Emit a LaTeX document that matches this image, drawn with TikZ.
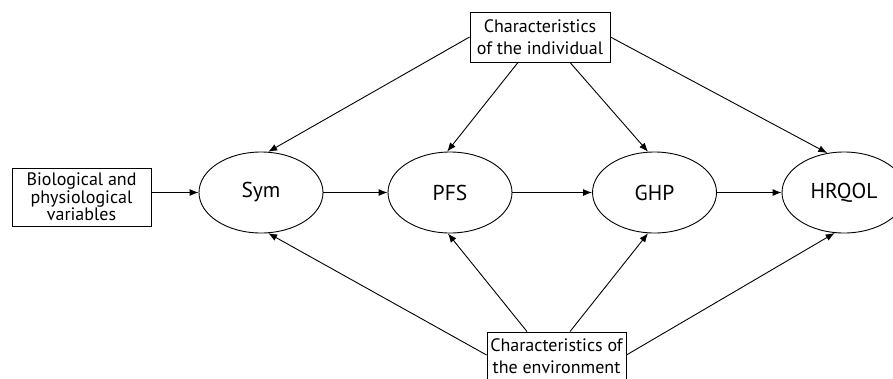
\documentclass[tikz,border=0pt]{standalone}
\usepackage{fontspec}
\setmainfont{PT Sans}
\usetikzlibrary{shapes.geometric,arrows.meta,calc}
\begin{document}
\begin{tikzpicture}[x=1pt,y=-1pt,
  box/.style={draw,line width=0.9pt,rectangle,inner sep=0pt,align=center,font=\fontsize{18}{22.5}\selectfont},
  oval/.style={draw,ellipse,line width=0.9pt,minimum width=124pt,minimum height=81pt,inner sep=0pt,font=\fontsize{21.5}{24}\selectfont},
  arr/.style={line width=0.9pt,-{Latex[length=9pt,width=7pt]}}]
\useasboundingbox (0,0) rectangle (893,378);
\clip (0,0) rectangle (893,378);
% nodes
\node[box,minimum width=140pt,minimum height=50pt] (top) at (540,37) {Characteristics\\of the individual};
\node[box,minimum width=139pt,minimum height=58pt,font=\fontsize{18}{17.7}\selectfont] (bio) at (81.5,197) {Biological and\\physiological\\variables};
\node[box,minimum width=139pt,minimum height=48pt,font=\fontsize{18}{21.7}\selectfont] (bot) at (556.5,356) {Characteristics of\\the environment};
\node[oval] (Sym) at (261,192.5) {Sym};
\node[oval] (PFS) at (450,192.5) {PFS};
\node[oval] (GHP) at (654.5,192.5) {GHP};
\node[oval] (HRQOL) at (844,192.5) {HRQOL};
% horizontal chain
\draw[arr] ([yshift=4.5pt]bio.east) -- (Sym.west);
\draw[arr] (Sym.east) -- (PFS.west);
\draw[arr] (PFS.east) -- (GHP.west);
\draw[arr] (GHP.east) -- (HRQOL.west);
% from characteristics of the individual
\draw[arr] (top.west) -- (Sym.80);
\draw[arr] ([xshift=-22pt]top.south) -- (PFS.94);
\draw[arr] ([xshift=30pt]top.south) -- (GHP.99);
\draw[arr] (top.east) -- (HRQOL.113);
% from characteristics of the environment
\draw[arr] ([yshift=1pt]bot.west) -- (Sym.-80);
\draw[arr] ([xshift=-29.5pt]bot.north) -- (PFS.-93);
\draw[arr] ([xshift=13.5pt]bot.north) -- (GHP.-99);
\draw[arr] ([yshift=1pt]bot.east) -- (HRQOL.-103);
\end{tikzpicture}
\end{document}
